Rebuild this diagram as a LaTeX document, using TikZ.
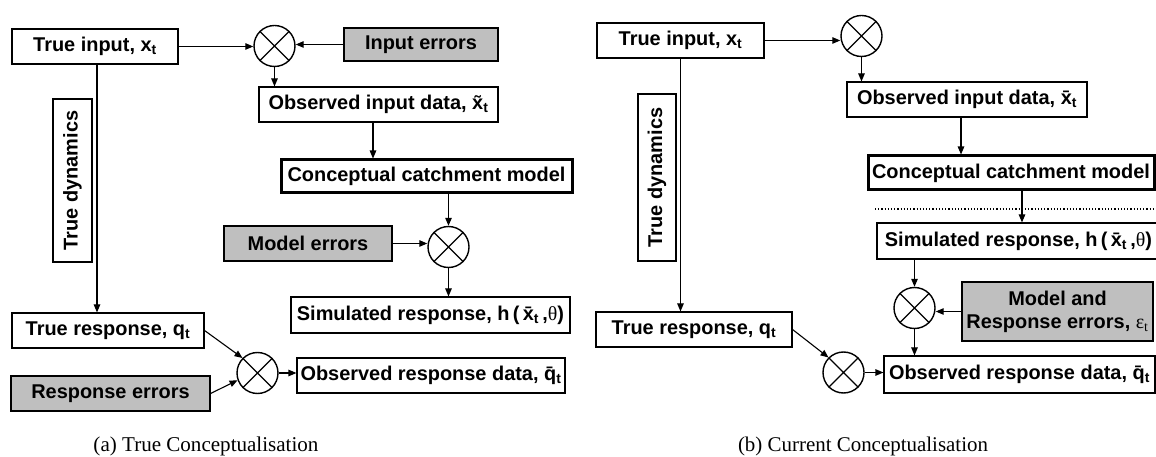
\documentclass[tikz,border=0pt]{standalone}
\usepackage{fontspec}
\usepackage{graphicx}
\setmainfont{Liberation Sans}
\newfontfamily\serif{Liberation Serif}
\usetikzlibrary{arrows.meta}
\definecolor{errgray}{HTML}{BFBFBF}
\tikzset{
  lbl/.style={font=\fontsize{20}{23}\selectfont\bfseries},
  boxnode/.style={lbl, draw, line width=1.1bp, inner sep=0pt, fill=white},
  errbox/.style={boxnode, fill=errgray},
  thickbox/.style={boxnode, line width=3bp},
  mixer/.style={draw, circle, line width=1.4bp, minimum size=41bp, inner sep=0pt},
  arr/.style={line width=1.1bp, -{Triangle[length=8bp,width=6.5bp]}},
  captext/.style={font=\serif\fontsize{21}{24}\selectfont, inner sep=0pt}
}
\newcommand\cross[1]{\draw[line width=1.2bp] (#1.45) -- (#1.225) (#1.135) -- (#1.315);}
\begin{document}
\begin{tikzpicture}[x=1bp,y=-1bp]
\useasboundingbox (0,0) rectangle (1156,457);
% ---------------- (a) ----------------
\node[boxnode, minimum width=166bp, minimum height=35bp] (tin) at (95,46.5) {True input, x\textsubscript{t}};
\node[mixer] (c1) at (274.5,46) {};
\node[errbox, minimum width=154bp, minimum height=33bp] (ierr) at (421,44.5) {Input errors};
\node[boxnode, minimum width=239bp, minimum height=35bp] (obs) at (378.5,104.5) {Observed input data, x̃\textsubscript{t}};
\node[thickbox, minimum width=291bp, minimum height=33bp] (ccm) at (426.5,176.5) {Conceptual catchment model};
\node[errbox, minimum width=168bp, minimum height=35bp] (merr) at (308,243.5) {Model errors};
\node[mixer] (c2) at (448.5,247) {};
\node[boxnode, minimum width=279bp, minimum height=36bp] (sim) at (430.5,315) {Simulated response, h\,(\,x̄\textsubscript{t}\,,{\serif\mdseries θ})};
\node[boxnode, rotate=90, minimum width=163bp, minimum height=39bp] (tdyn) at (72.5,180.5) {True dynamics};
\node[boxnode, minimum width=192bp, minimum height=35bp] (tresp) at (108,330.5) {True response, q\textsubscript{t}};
\node[errbox, minimum width=199bp, minimum height=35bp] (rerr) at (110.5,393.5) {Response errors};
\node[mixer] (c3) at (257.5,373) {};
\node[boxnode, minimum width=268bp, minimum height=35bp] (oresp) at (431,375.5) {Observed response data, q̄\textsubscript{t}};
\node[captext] (capa) at (206,446) {\resizebox{225bp}{!}{(a) True Conceptualisation}};
\cross{c1}\cross{c2}\cross{c3}
\draw[arr] (tin.east) -- (c1.west |- tin.east);
\draw[arr] (ierr.west) -- (c1.east |- ierr.west);
\draw[arr] (c1.south) -- (c1.south |- obs.north);
\draw[arr] ([xshift=-5.5bp]obs.south) -- ([xshift=-5.5bp]obs.south |- ccm.north);
\draw[arr] (c2.north |- ccm.south) -- (c2.north);
\draw[arr] (merr.east) -- (c2.west |- merr.east);
\draw[arr] (c2.south) -- (c2.south |- sim.north);
\draw[arr] ([xshift=2bp]tin.south) -- ([xshift=2bp]tin.south |- tresp.north);
\draw[arr] (tresp.east) -- (c3.135);
\draw[arr] (rerr.east) -- (c3.200);
\draw[arr] (c3.east) -- (oresp.west |- c3.east);
% ---------------- (b) ----------------
\node[boxnode, minimum width=167bp, minimum height=35bp] (tin2) at (680.5,40.5) {True input, x\textsubscript{t}};
\node[mixer] (c4) at (861.5,36) {};
\node[boxnode, minimum width=240bp, minimum height=35bp] (obs2) at (967,99.5) {Observed input data, x̄\textsubscript{t}};
\node[thickbox, minimum width=286bp, minimum height=34bp] (ccm2) at (1011,173) {Conceptual catchment model};
\coordinate (dotl) at (875,209);
\coordinate (dotr) at (1160,209);
\draw[line width=1.2bp, dotted] (dotl) -- (dotr);
\node[boxnode, minimum width=283bp, minimum height=36bp] (sim2) at (1018.5,241) {Simulated response, h\,(\,x̄\textsubscript{t}\,,{\serif\mdseries θ})};
\node[mixer] (c5) at (914.5,308) {};
\node[errbox, minimum width=191bp, minimum height=59bp, align=center] (mrerr) at (1057.5,311.5) {Model and\\Response errors, {\serif\mdseries ε\textsubscript{t}}};
\node[boxnode, minimum width=271bp, minimum height=37bp] (oresp2) at (1019.5,374.5) {Observed response data, q̄\textsubscript{t}};
\node[mixer] (c6) at (843.5,372.5) {};
\node[boxnode, rotate=90, minimum width=167bp, minimum height=38bp] (tdyn2) at (657,177.5) {True dynamics};
\node[boxnode, minimum width=196bp, minimum height=35bp] (tresp2) at (694,329.5) {True response, q\textsubscript{t}};
\node[captext] (capb) at (863,446) {\resizebox{250bp}{!}{(b) Current Conceptualisation}};
\cross{c4}\cross{c5}\cross{c6}
\draw[arr] (tin2.east) -- (c4.west |- tin2.east);
\draw[arr] (c4.south) -- (c4.south |- obs2.north);
\draw[arr] ([xshift=-6bp]obs2.south) -- ([xshift=-6bp]obs2.south |- ccm2.north);
\draw[arr] ([xshift=11bp]ccm2.south) -- ([xshift=11bp]ccm2.south |- sim2.north);
\draw[arr] (c5.north |- sim2.south) -- (c5.north);
\draw[arr] (mrerr.west) -- (c5.east |- mrerr.west);
\draw[arr] (c5.south) -- (c5.south |- oresp2.north);
\draw[arr] (tin2.south) -- (tin2.south |- tresp2.north);
\draw[arr] (tresp2.east) -- (c6.135);
\draw[arr] (c6.east) -- (oresp2.west |- c6.east);
\end{tikzpicture}
\end{document}
